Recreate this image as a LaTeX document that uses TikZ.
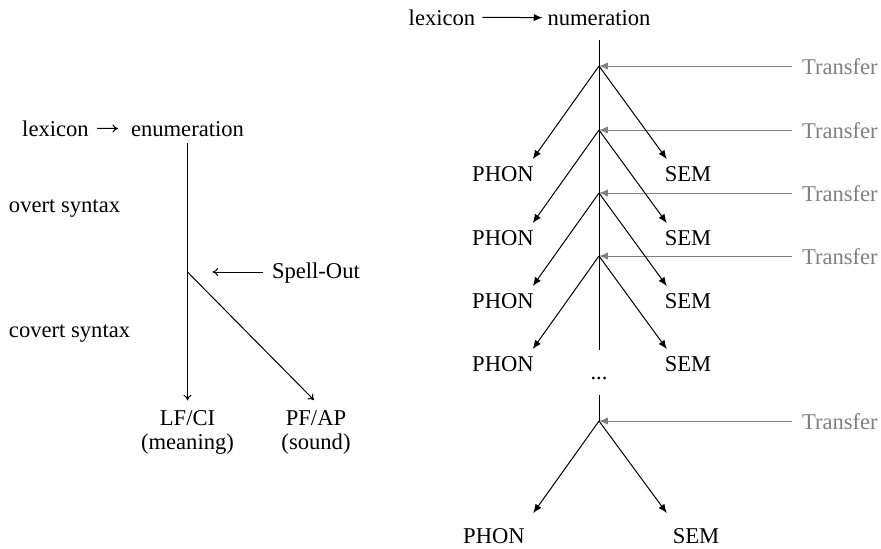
\documentclass[tikz,border=0pt]{standalone}
\usepackage{fontspec}
\setmainfont{Liberation Serif}
\usetikzlibrary{arrows.meta}
\begin{document}
\begin{tikzpicture}[x=0.5pt,y=-0.5pt,
  every node/.style={inner sep=0pt, outer sep=0pt, font=\fontsize{11.3}{13.6}\selectfont},
  lbl/.style={anchor=base},
  lw/.style={anchor=base west},
  ln/.style={line width=0.5pt},
  la/.style={ln,-{Computer Modern Rightarrow[length=2.8pt,width=4pt]}},
  ra/.style={ln,-{Latex[length=4.4pt,width=3.6pt]}},
  tr/.style={ln,black!50,-{Latex[length=4.4pt,width=3.6pt]}},
  trt/.style={anchor=base west,text=black!50}]
\useasboundingbox (0,0) rectangle (881,548);

% ---------- left diagram ----------
\node[lbl] (lexL) at (55.5,136) {lexicon};
\node[lbl] (enumL) at (187.5,136) {enumeration};
\draw[la, shorten <=4.2pt, shorten >=6.5pt] (lexL.east) -- (enumL.west);
\node[lw] (overt) at (9,212) {overt syntax};
\node[lw] (covert) at (9,337) {covert syntax};
\coordinate (spL) at (187.5,272);
\node[lw] (spell) at (272,278) {Spell-Out};
\draw[la, shorten <=4.5pt, shorten >=12.5pt] (spL -| spell.west) -- (spL);
\node[lbl] (lf) at (187.5,425) {LF/CI};
\node[lbl] (lfm) at (187.5,449) {(meaning)};
\node[lbl] (pf) at (316,425) {PF/AP};
\node[lbl] (pfm) at (316,449) {(sound)};
\draw[la, shorten <=3.5pt, shorten >=4.8pt] (enumL.south) -- (lf.north);
\draw[la] (spL) -- ([shift={(-2,-10)}]pf.north);

% ---------- right diagram ----------
\node[lbl] (lexR) at (442,25) {lexicon};
\node[lbl] (numR) at (599,25) {numeration};
\draw[ra, shorten <=3.5pt, shorten >=2.5pt] (lexR.east) -- (numR.west);
\node[lbl] (dots) at (599,379) {...};
\draw[ln, shorten <=7.5pt, shorten >=13.5pt] (numR.south) -- (dots.north);
\coordinate (b5) at (599,421);
\draw[ln, shorten <=8pt] (dots.south) -- (b5);

\foreach \i/\y in {1/66,2/130,3/193,4/256,5/421}{
  \coordinate (b\i) at (599,\y);
  \node[trt] (t\i) at (802,\y+8) {Transfer};
  \draw[tr, shorten <=5pt] (b\i -| t\i.west) -- (b\i);
}
\foreach \i/\y in {1/66,2/130,3/193,4/256}{
  \node[lbl] (p\i) at (503,\y+115) {PHON};
  \node[lbl] (s\i) at (688,\y+115) {SEM};
  \draw[ra] (b\i) -- ([shift={(-1,-7)}]p\i.north east);
  \draw[ra] (b\i) -- ([shift={(2,-7)}]s\i.north west);
}
\node[lbl] (p5) at (494,543) {PHON};
\node[lbl] (s5) at (696,543) {SEM};
\draw[ra] (b5) -- ([shift={(8.5,-15)}]p5.north east);
\draw[ra] (b5) -- ([shift={(-6,-15)}]s5.north west);
\end{tikzpicture}
\end{document}
